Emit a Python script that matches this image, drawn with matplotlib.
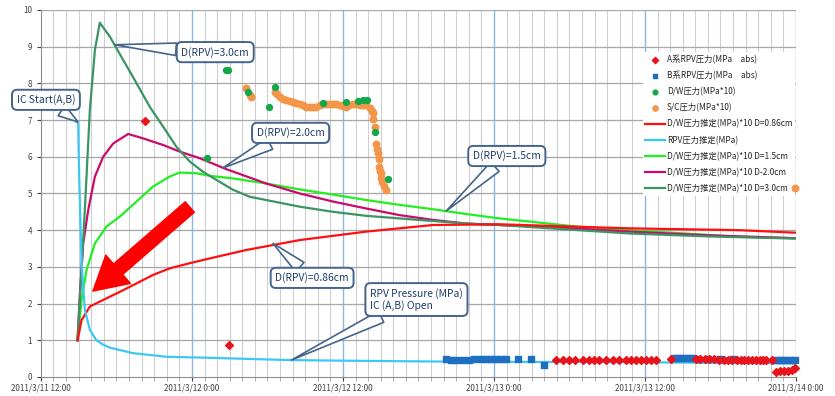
import matplotlib.pyplot as plt
import numpy as np

plt.rcParams['font.family'] = ['Noto Sans CJK JP', 'DejaVu Sans']

# hours after 2011/3/11 12:00
xtick_hours = [0, 12, 24, 36, 48, 60]
xtick_labels = ['2011/3/11 12:00', '2011/3/12 0:00', '2011/3/12 12:00',
                '2011/3/13 0:00', '2011/3/13 12:00', '2011/3/14 0:00']

# measured values
a_rpv_t = [8.25, 14.92,
           40.93, 41.45, 41.98, 42.46, 43.04, 43.57, 43.97, 44.37, 44.9, 45.42,
           45.95, 46.48, 46.88, 47.27, 47.67, 48.07, 48.47, 48.86,
           50.06, 52.04, 52.4, 52.75, 53.1, 53.5, 53.9, 54.25, 54.6, 54.9,
           55.3, 55.6, 55.9, 56.2, 56.5, 56.8, 57.1, 57.35, 57.6, 58.12,
           58.45, 58.75, 59.05, 59.35, 59.7, 59.95]
a_rpv_v = [6.98, 0.87,
           0.46, 0.46, 0.46, 0.46, 0.46, 0.46, 0.46, 0.46, 0.46, 0.46,
           0.46, 0.46, 0.46, 0.46, 0.46, 0.46, 0.46, 0.46,
           0.49, 0.48, 0.48, 0.48, 0.48, 0.48, 0.47, 0.47, 0.47, 0.47,
           0.47, 0.47, 0.47, 0.47, 0.47, 0.47, 0.47, 0.47, 0.47, 0.47,
           0.14, 0.15, 0.16, 0.17, 0.19, 0.24]

b_rpv_t = [32.2, 32.6, 33.0, 33.5, 34.05, 34.4, 34.97, 35.37, 35.77, 36.17,
           36.56, 36.96, 37.94, 38.94, 40.0,
           50.3, 50.6, 50.9, 51.2, 51.5, 51.77, 52.2, 53.0, 54.0, 55.0,
           58.4, 58.7, 59.0, 59.3, 59.6, 59.95]
b_rpv_v = [0.48, 0.47, 0.47, 0.47, 0.47, 0.48, 0.48, 0.48, 0.48, 0.48,
           0.48, 0.48, 0.48, 0.48, 0.34,
           0.51, 0.51, 0.51, 0.51, 0.51, 0.51, 0.5, 0.5, 0.49, 0.49,
           0.46, 0.46, 0.46, 0.46, 0.46, 0.46]

dw_t = [13.17, 14.68, 14.84, 16.45, 18.12, 18.57, 22.4, 24.26, 25.16, 25.58,
        25.95, 26.51, 27.56]
dw_v = [5.97, 8.37, 8.37, 7.77, 7.36, 7.89, 7.47, 7.5, 7.52, 7.54,
        7.54, 6.68, 5.38]

sc_t = [16.33, 16.59, 16.72, 18.57, 18.73, 18.97, 19.21, 19.5, 19.76, 20.02,
        20.29, 20.56, 20.82, 21.09, 21.35, 21.61, 21.88, 22.14, 22.4, 22.67,
        22.94, 23.2, 23.47, 23.73, 23.99, 24.26, 24.52, 24.79, 25.06, 25.32,
        25.58, 25.85, 26.11, 26.27, 26.37, 26.39, 26.51, 26.64, 26.71, 26.77,
        26.83, 26.9, 26.98, 27.04, 27.06, 27.14, 27.26, 27.44, 59.92]
sc_v = [7.86, 7.68, 7.62, 7.77, 7.7, 7.64, 7.58, 7.55, 7.52, 7.5,
        7.47, 7.44, 7.4, 7.35, 7.35, 7.35, 7.36, 7.4, 7.44, 7.45,
        7.45, 7.45, 7.45, 7.42, 7.38, 7.35, 7.4, 7.44, 7.43, 7.41,
        7.41, 7.41, 7.32, 7.25, 7.18, 7.04, 6.8, 6.36, 6.2, 6.09,
        5.95, 5.73, 5.62, 5.55, 5.41, 5.3, 5.2, 5.1, 5.15]

# estimated curves
d086_t = [2.91, 3.23, 3.89, 4.95, 6.27, 7.6, 8.91, 10.24, 11.83, 13.41,
          16.33, 20.56, 25.85, 31.14, 36.43, 42.0, 46.75, 55.48, 60]
d086_v = [1.0, 1.55, 1.92, 2.1, 2.32, 2.55, 2.78, 2.96, 3.1, 3.23,
          3.46, 3.73, 3.96, 4.14, 4.16, 4.1, 4.05, 4.0, 3.93]

rpv_t = [2.8, 2.96, 3.04, 3.23, 3.49, 3.89, 4.42, 4.95, 5.48, 7.3, 9.98,
         12.6, 19.9, 25.3, 31.9, 47.9, 60]
rpv_v = [6.95, 6.91, 5.46, 3.09, 1.83, 1.28, 1.0, 0.88, 0.8, 0.65, 0.55,
         0.53, 0.46, 0.44, 0.42, 0.4, 0.37]

d15_t = [2.91, 3.23, 3.63, 4.29, 5.21, 6.27, 7.6, 8.91, 10.24, 11.03, 12.36,
         13.41, 15.26, 17.91, 20.56, 23.2, 25.85, 28.49, 31.14, 33.79, 36.43,
         42.78, 46.75, 55.48, 60]
d15_v = [1.0, 2.1, 2.92, 3.64, 4.1, 4.37, 4.78, 5.19, 5.46, 5.57, 5.55,
         5.48, 5.41, 5.27, 5.11, 4.97, 4.82, 4.69, 4.57, 4.44, 4.32,
         4.09, 4.0, 3.82, 3.78]

d20_t = [2.91, 3.1, 3.36, 3.76, 4.29, 4.95, 5.74, 6.93, 8.12, 9.71, 11.03,
         12.62, 14.74, 17.91, 20.56, 23.2, 25.85, 28.49, 31.14, 33.79, 36.43,
         40.13, 46.75, 53.0, 60]
d20_v = [1.0, 2.28, 3.64, 4.55, 5.46, 6.0, 6.36, 6.62, 6.5, 6.32, 6.14,
         5.96, 5.66, 5.27, 5.0, 4.78, 4.59, 4.41, 4.28, 4.18, 4.14,
         4.09, 3.96, 3.86, 3.78]

d30_t = [2.91, 3.49, 3.89, 4.29, 4.68, 5.48, 6.53, 7.6, 8.65, 9.71, 10.77,
         11.83, 12.88, 13.94, 15.26, 16.59, 17.91, 20.56, 23.2, 25.85, 28.49,
         31.14, 33.79, 36.43, 46.75, 53.0, 60]
d30_v = [1.0, 4.55, 7.28, 8.91, 9.65, 9.27, 8.64, 8.0, 7.36, 6.82, 6.27,
         5.87, 5.59, 5.37, 5.1, 4.91, 4.82, 4.64, 4.5, 4.39, 4.32,
         4.25, 4.18, 4.14, 3.91, 3.83, 3.77]

fig = plt.figure(figsize=(8.35, 3.96), dpi=100)
ax = fig.add_axes([0.049, 0.048, 0.9043, 0.927])

# grid: hourly light lines, 12h blue lines, gray per unit
for h in range(1, 61):
    if h % 12 == 0:
        ax.axvline(h, color='#8db4e2', lw=1.0, zorder=0.5)
    else:
        ax.axvline(h, color='#cfcfcf', lw=0.8, zorder=0.4)
for v in range(1, 11):
    ax.axhline(v, color='#a6a6a6', lw=0.9, zorder=0.45)

ax.scatter(a_rpv_t, a_rpv_v, marker='D', s=16, color='#e8141c', zorder=4,
           clip_on=False, label='A系RPV圧力(MPa\u3000abs)')
ax.scatter(b_rpv_t, b_rpv_v, marker='s', s=18, color='#1f6fc0', zorder=3.4,
           clip_on=False, label='B系RPV圧力(MPa\u3000abs)')
ax.scatter(dw_t, dw_v, marker='o', s=18, color='#12a84a', zorder=3.6,
           clip_on=False, label='D/W圧力(MPa*10)')
ax.scatter(sc_t, sc_v, marker='o', s=22, color='#f3964a', zorder=3.5,
           clip_on=False, label='S/C圧力(MPa*10)')

ax.plot(d086_t, d086_v, color='#ff1010', lw=1.6, zorder=2.4,
        label='D/W圧力推定(MPa)*10 D=0.86cm')
ax.plot(rpv_t, rpv_v, color='#3cc8f5', lw=1.6, zorder=2.5,
        label='RPV圧力推定(MPa)')
ax.plot(d15_t, d15_v, color='#22ee22', lw=1.6, zorder=2.1,
        label='D/W圧力推定(MPa)*10 D=1.5cm')
ax.plot(d20_t, d20_v, color='#cc0a6e', lw=1.6, zorder=2.2,
        label='D/W圧力推定(MPa)*10 D-2.0cm')
ax.plot(d30_t, d30_v, color='#3a9464', lw=1.6, zorder=2.3,
        label='D/W圧力推定(MPa)*10 D=3.0cm')

ax.set_xlim(0, 60)
ax.set_ylim(0, 10)
ax.set_xticks(xtick_hours)
ax.set_xticklabels(xtick_labels)
ax.set_xticks(range(61), minor=True)
ax.set_yticks(range(11))
ax.tick_params(axis='both', labelsize=5.8, colors='#404040', length=3, width=0.8)
ax.tick_params(axis='x', which='minor', length=3, width=0.6, colors='#a0a0a0')
ax.tick_params(axis='x', pad=2)
for s in ['top', 'right']:
    ax.spines[s].set_visible(False)
for s in ['left', 'bottom']:
    ax.spines[s].set_color('#8c8c8c')

leg = ax.legend(loc='upper left', bbox_to_anchor=(0.797, 0.885), fontsize=6,
                frameon=True, framealpha=1, edgecolor='none', fancybox=False,
                handlelength=2.4, handletextpad=0.2, labelspacing=0.85,
                borderpad=0.3, markerscale=0.8, borderaxespad=0)
for t in leg.get_texts():
    t.set_color('#262626')
leg.set_zorder(3.0)

# callouts
box = dict(boxstyle='round,pad=0.45,rounding_size=0.5', fc='white',
           ec='#45648c', lw=1.4)
wedge = dict(arrowstyle='wedge,tail_width=0.5', fc='white', ec='#45648c',
             lw=1.2, mutation_scale=18, shrinkA=0, shrinkB=0)
callouts = [
    ('IC Start(A,B)', (2.94, 6.95), (0.4, 7.55)),
    ('D(RPV)=3.0cm', (5.87, 9.05), (13.85, 8.85)),
    ('D(RPV)=2.0cm', (14.44, 5.69), (19.84, 6.65)),
    ('D(RPV)=1.5cm', (32.2, 4.52), (37.02, 6.02)),
    ('D(RPV)=0.86cm', (18.44, 3.64), (21.55, 2.70)),
    ('RPV Pressure (MPa)\nIC (A,B) Open', (19.9, 0.46), (29.84, 2.11)),
]
for txt, pt, pos in callouts:
    ax.annotate(txt, xy=pt, xytext=pos, fontsize=7.4, color='#1f3d6b',
                ha='center', va='center', multialignment='left',
                bbox=box, arrowprops=wedge, zorder=6)

# big red arrow
ax.annotate('', xy=(4.13, 2.34), xytext=(11.83, 4.63),
            arrowprops=dict(arrowstyle='simple,head_width=1.35,head_length=1.2,tail_width=0.5',
                            color='#ff0000', mutation_scale=20, shrinkA=0, shrinkB=0),
            zorder=6)

fig.savefig('out.png', dpi=100)
